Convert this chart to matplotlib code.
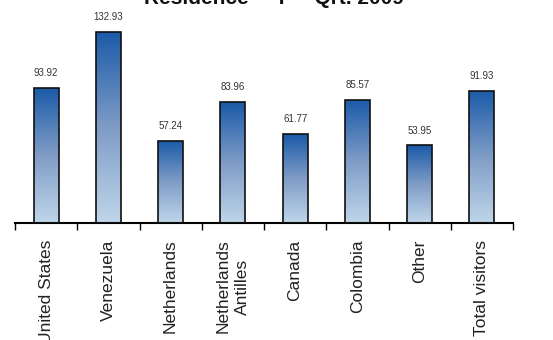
import numpy as np
import matplotlib.pyplot as plt
from matplotlib.colors import LinearSegmentedColormap

plt.rcParams['font.family'] = ['Liberation Sans', 'DejaVu Sans']

countries = ["United States", "Venezuela", "Netherlands", "Netherlands\nAntilles",
             "Canada", "Colombia", "Other", "Total visitors"]
values = [93.92, 132.93, 57.24, 83.96, 61.77, 85.57, 53.95, 91.93]

fig = plt.figure(figsize=(5.53, 3.40), dpi=100)
ax = fig.add_axes([15 / 553, 117 / 340, 498 / 553, 213 / 340])

x = np.arange(len(countries))
bars = ax.bar(x, values, width=0.4, facecolor='none', edgecolor='#111111',
              linewidth=1.2, zorder=3)

# vertical gradient inside each bar: light at bottom, dark blue at top
cmap = LinearSegmentedColormap.from_list('grad', ['#bfd6ea', '#7f9cc6', '#1a5aa8'])
grad = np.linspace(0, 1, 256).reshape(-1, 1)
for b in bars:
    x0, w, h = b.get_x(), b.get_width(), b.get_height()
    im = ax.imshow(grad, cmap=cmap, origin='lower', aspect='auto',
                   extent=[x0, x0 + w, 0, h], zorder=2)
    im.set_clip_path(b)

for xi, v in zip(x, values):
    ax.annotate(f"{v:.2f}", (xi, v), xytext=(0, 7), textcoords='offset points',
                ha='center', va='bottom', fontsize=7, color='#333333')

ax.set_xlim(-0.5, len(countries) - 0.5)
ax.set_ylim(0, 148)
ax.set_xticks(np.arange(len(countries) + 1) - 0.5)
ax.set_xticklabels([])
ax.set_xticks(x, minor=True)
ax.set_xticklabels(countries, minor=True, rotation=90, fontsize=12.5,
                   ha='center', va='top', linespacing=1.3,
                   multialignment='center', color='#222222')
ax.tick_params(axis='x', which='major', length=5, width=1, direction='out')
ax.tick_params(axis='x', which='minor', length=0, pad=12)
ax.set_yticks([])
for s in ['left', 'right', 'top']:
    ax.spines[s].set_visible(False)
ax.spines['bottom'].set_linewidth(1.5)

fig.text(274 / 553, 1 - 4 / 340, "Residence  -  I  -  Qrt. 2009", ha='center',
         va='baseline', fontsize=15, fontweight='bold', color='#111111')

fig.savefig('out.png', dpi=100)
